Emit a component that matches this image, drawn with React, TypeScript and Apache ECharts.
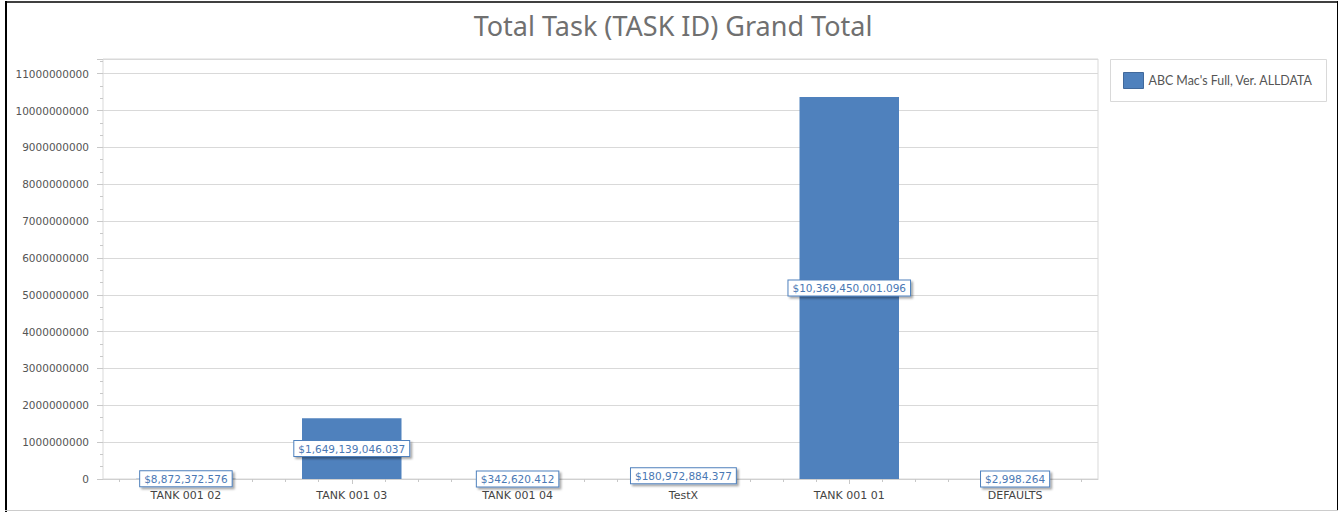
import React, { useEffect, useRef } from "react";
import * as echarts from "echarts";

const categories: string[] = ["TANK 001 02", "TANK 001 03", "TANK 001 04", "TestX", "TANK 001 01", "DEFAULTS"];
const grandTotals: number[] = [8872372.576, 1649139046.037, 342620.412, 180972884.377, 10369450001.096, 2998.264];
const seriesName = "ABC Mac's Full, Ver. ALLDATA";
const chartTitle = "Total Task (TASK ID) Grand Total";
const minorTickSlots: string[] = Array.from({ length: 30 }, () => "");

const BAR = "#4f81bd";
const GRIDC = "#d9d9d9";

function fmtMoney(v: number): string {
  return "$" + v.toLocaleString("en-US", { minimumFractionDigits: 3, maximumFractionDigits: 3 });
}

export default function App() {
  const ref = useRef<HTMLDivElement>(null);
  useEffect(() => {
    if (!ref.current) return;
    const chart = echarts.init(ref.current, undefined, { renderer: "svg" });
    chart.setOption({
      animation: false,
      backgroundColor: "#ffffff",
      title: {
        text: chartTitle,
        left: 668,
        textAlign: "center",
        top: 7,
        textStyle: { fontFamily: "Noto Sans", fontSize: 27, fontWeight: "normal", color: "#707070" },
      },
      legend: {
        left: 1123,
        top: 72,
        padding: 0,
        itemWidth: 20,
        itemHeight: 16,
        itemGap: 6,
        icon: "rect",
        textStyle: { fontFamily: "Lato", fontSize: 12.4, color: "#555555", padding: [0, 0, 0, 0] },
        data: [{ name: seriesName, itemStyle: { color: BAR, borderColor: "#41699b", borderWidth: 1 } }],
      },
      grid: {
        left: 103,
        top: 59,
        width: 995,
        height: 420,
        show: true,
        borderColor: GRIDC,
        borderWidth: 1,
        containLabel: false,
      },
      xAxis: [
        {
          type: "category",
          data: categories,
          axisLine: { show: true, lineStyle: { color: "#d0d0d0" } },
          axisTick: { show: true, alignWithLabel: true, length: 5, lineStyle: { color: "#c8c8c8" } },
          axisLabel: { margin: 11, fontFamily: "DejaVu Sans", fontSize: 11, color: "#444444", interval: 0 },
          splitLine: { show: false },
        },
        {
          type: "category",
          data: minorTickSlots,
          position: "bottom",
          axisLine: { show: false },
          axisTick: { show: true, alignWithLabel: true, interval: 0, length: 3, lineStyle: { color: "#c8c8c8" } },
          axisLabel: { show: false },
          splitLine: { show: false },
        },
      ],
      yAxis: {
        type: "value",
        min: 0,
        max: 11400000000,
        interval: 1000000000,
        axisLine: { show: false },
        axisTick: { show: true, length: 6, lineStyle: { color: "#c8c8c8" } },
        minorTick: { show: true, splitNumber: 3, length: 3, lineStyle: { color: "#c8c8c8" } },
        splitLine: { show: true, lineStyle: { color: GRIDC } },
        axisLabel: {
          margin: 14,
          fontFamily: "DejaVu Sans",
          fontSize: 10.5,
          color: "#555555",
          formatter: (v: number) => (Math.round(v) % 1000000000 === 0 ? String(Math.round(v)) : ""),
        },
      },
      series: [
        {
          name: seriesName,
          type: "bar",
          data: grandTotals,
          barWidth: "60%",
          itemStyle: { color: BAR },
          label: {
            show: true,
            position: "inside",
            formatter: (p: any) => fmtMoney(p.value),
            fontFamily: "DejaVu Sans",
            fontSize: 10.5,
            color: "#4a78b4",
            backgroundColor: "#ffffff",
            borderColor: BAR,
            borderWidth: 1,
            padding: [2, 4, 2, 4],
            shadowColor: "rgba(0,0,0,0.35)",
            shadowBlur: 2,
            shadowOffsetX: 2,
            shadowOffsetY: 2,
          },
        },
      ],
      graphic: [
        {
          type: "rect",
          shape: { x: 1110.5, y: 59.5, width: 216, height: 42 },
          style: { fill: "none", stroke: GRIDC, lineWidth: 1 },
          silent: true,
        },
        { type: "line", shape: { x1: 6, y1: 1, x2: 6, y2: 512 }, style: { stroke: "#000000", lineWidth: 2 }, silent: true },
        { type: "line", shape: { x1: 5, y1: 2, x2: 1338, y2: 2 }, style: { stroke: "#000000", lineWidth: 1.5 }, silent: true },
        { type: "line", shape: { x1: 1337.5, y1: 1, x2: 1337.5, y2: 511 }, style: { stroke: "#000000", lineWidth: 1 }, silent: true },
        { type: "line", shape: { x1: 5, y1: 510.5, x2: 1338, y2: 510.5 }, style: { stroke: "#cccccc", lineWidth: 1 }, silent: true },
      ],
    });
    return () => chart.dispose();
  }, []);
  return (
    <div
      ref={ref}
      style={{ position: "fixed", left: 0, top: 0, width: 1340, height: 512, background: "#ffffff" }}
    />
  );
}
